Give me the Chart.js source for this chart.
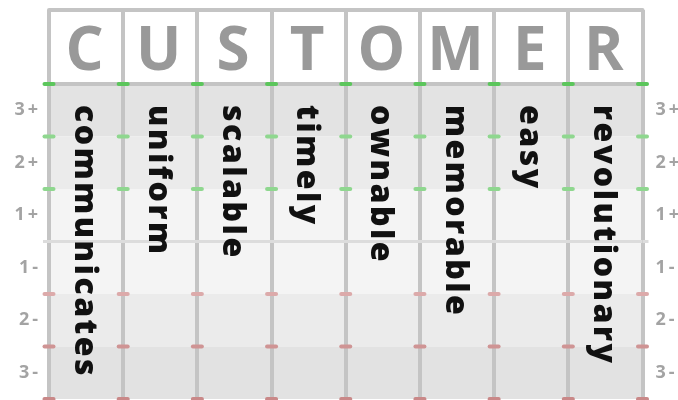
<!DOCTYPE html>
<html>
<head>
<meta charset="utf-8">
<script src="https://cdn.jsdelivr.net/npm/chart.js@4"></script>
<style>
  html, body { margin: 0; padding: 0; background: #fff; }
  #wrap { width: 678px; height: 400px; }
</style>
</head>
<body>
<div id="wrap"><canvas id="chart"></canvas></div>
<script>
// chart content
const letters = ['C', 'U', 'S', 'T', 'O', 'M', 'E', 'R'];
const words = ['communicates', 'uniform', 'scalable', 'timely', 'ownable', 'memorable', 'easy', 'revolutionary'];
const rowLabels = ['3+', '2+', '1+', '1-', '2-', '3-'];

// styling
const bandColors = ['#e3e3e3', '#ebebeb', '#f4f4f4', '#f4f4f4', '#ebebeb', '#e2e2e2'];
const dashColors = ['#5cc65c', '#8fd78f', '#8fd78f', null, '#dcaaaa', '#cf9494', '#c98888'];
const lineGray = '#c4c4c4';
const HEADER = 74;

const gridPlugin = {
    id: 'customerGrid',
    beforeDraw(chart) {
        const { ctx, chartArea: a, scales: { y } } = chart;
        ctx.letterSpacing = '3px'; // spacing for the row labels
        ctx.save();
        rowLabels.forEach((r, i) => {
            const top = y.getPixelForValue(i - 0.5);
            const bot = y.getPixelForValue(i + 0.5);
            ctx.fillStyle = bandColors[i];
            ctx.fillRect(a.left, top, a.right - a.left, bot - top);
        });
        ctx.restore();
    },
    afterDraw(chart) {
        const { ctx, chartArea: a, scales: { x, y } } = chart;
        ctx.save();
        // top edge of the header row
        const x0 = x.getPixelForValue(-0.5), x1 = x.getPixelForValue(letters.length - 0.5);
        ctx.strokeStyle = lineGray;
        ctx.lineWidth = 4;
        ctx.lineCap = 'round';
        ctx.beginPath();
        ctx.moveTo(x0, a.top - HEADER);
        ctx.lineTo(x1, a.top - HEADER);
        ctx.stroke();

        // coloured marks where the rows meet the column lines
        for (let i = 0; i <= rowLabels.length; i++) {
            if (!dashColors[i]) continue;
            const py = y.getPixelForValue(i - 0.5);
            ctx.strokeStyle = dashColors[i];
            ctx.lineWidth = 4;
            for (let j = 0; j <= letters.length; j++) {
                const px = x.getPixelForValue(j - 0.5);
                ctx.beginPath();
                ctx.moveTo(px - 4.5, py);
                ctx.lineTo(px + 4.5, py);
                ctx.stroke();
            }
        }

        // vertical words
        ctx.fillStyle = '#111';
        ctx.font = '800 32px "Open Sans"';
        ctx.letterSpacing = '2.5px';
        ctx.textAlign = 'left';
        ctx.textBaseline = 'alphabetic';
        words.forEach((w, i) => {
            ctx.save();
            ctx.translate(x.getPixelForValue(i) - 11.5, a.top + 21);
            ctx.rotate(Math.PI / 2);
            ctx.fillText(w, 0, 0);
            ctx.restore();
        });
        ctx.restore();
    }
};

const midLine = c => c.index === 3 ? '#dcdcdc' : 'rgba(0,0,0,0)';
const rowTicks = {
    font: { family: 'Open Sans', size: 18, weight: 'bold' },
    color: '#a3a3a3'
};
const noPad = s => { s.paddingTop = 0; s.paddingBottom = 0; };

new Chart(document.getElementById('chart'), {
    type: 'line',
    data: { labels: letters, datasets: [] },
    options: {
        responsive: true,
        maintainAspectRatio: false,
        animation: false,
        layout: { padding: { top: 10, left: 0, right: 0, bottom: 1 } },
        plugins: { legend: { display: false }, tooltip: { enabled: false } },
        scales: {
            x: {
                position: 'top',
                offset: true,
                grid: { offset: true, color: lineGray, lineWidth: 4, tickLength: HEADER },
                border: { display: true, color: lineGray, width: 4 },
                ticks: {
                    font: { family: 'Open Sans', size: 60, weight: 'bold' },
                    color: '#999',
                    padding: -79,
                    maxRotation: 0,
                    autoSkip: false
                },
                afterFit: s => { s.height = HEADER; s.paddingLeft = 0; s.paddingRight = 0; }
            },
            y: {
                type: 'category',
                labels: rowLabels,
                position: 'left',
                offset: true,
                grid: { offset: true, color: midLine, lineWidth: 3, tickLength: 6 },
                border: { display: false },
                ticks: { ...rowTicks, padding: 2 },
                afterFit: s => { s.width = 49; noPad(s); }
            },
            y2: {
                type: 'category',
                labels: rowLabels,
                position: 'right',
                offset: true,
                grid: { offset: true, drawOnChartArea: false, color: midLine, lineWidth: 3, tickLength: 6 },
                border: { display: false },
                ticks: { ...rowTicks, padding: 7 },
                afterFit: s => { s.width = 35.5; noPad(s); }
            }
        }
    },
    plugins: [gridPlugin]
});
</script>
</body>
</html>
